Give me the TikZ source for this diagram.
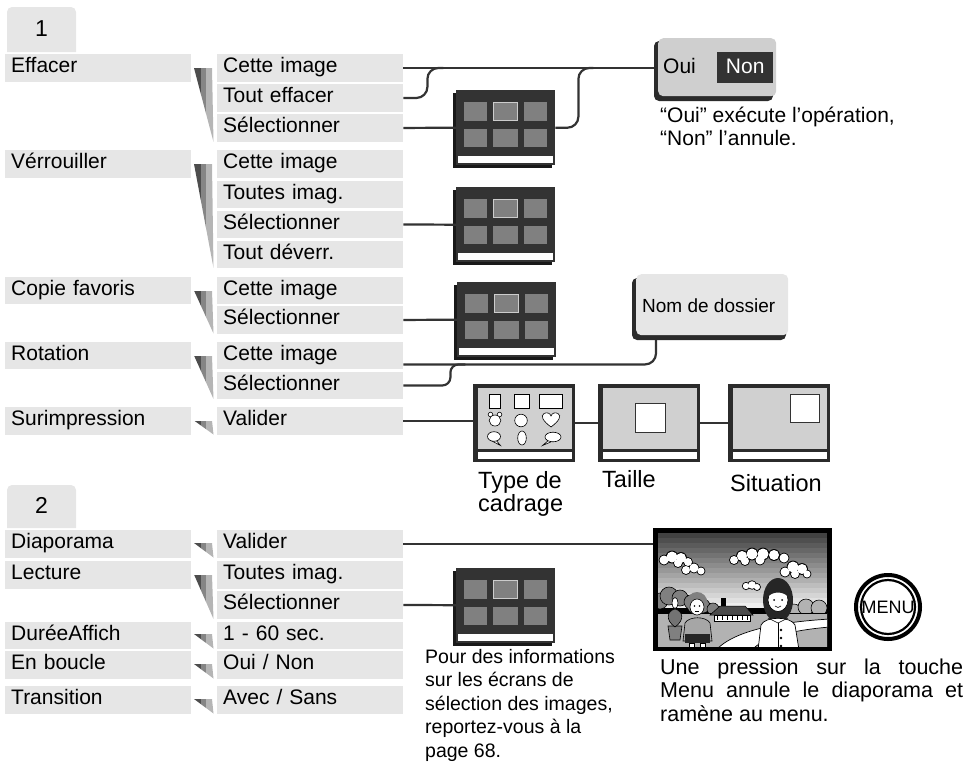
\documentclass[tikz,border=0pt]{standalone}
\usepackage{fontspec}
\setmainfont{Liberation Sans}
\usetikzlibrary{calc}

\definecolor{boxgray}{HTML}{E6E6E6}
\definecolor{wire}{HTML}{333333}
\definecolor{fanA}{HTML}{4D4D4D}
\definecolor{fanB}{HTML}{858585}
\definecolor{fanC}{HTML}{B5B5B5}
\definecolor{thumbdark}{HTML}{333333}
\definecolor{thumbsq}{HTML}{808080}
\definecolor{panelgray}{HTML}{CFCFCF}
\definecolor{screengray}{HTML}{D0D0D0}
\definecolor{shadowdark}{HTML}{2B2B2B}

% striped wedge joining a menu entry to its sub-options
\newcommand{\menufan}[2]{%
  \begin{scope}
    \clip (194,#1) -- (212,#1) -- (213.5,#2) -- cycle;
    \fill[fanA] (193,#1) rectangle (201,#2);
    \fill[fanB] (201,#1) rectangle (205.5,#2);
    \fill[fanC] (205.5,#1) rectangle (215,#2);
  \end{scope}}

\begin{document}
\begin{tikzpicture}[x=1pt, y=-1pt,
  menubox/.style={fill=boxgray, anchor=north west, inner xsep=6pt, inner ysep=0pt,
    text width=174pt, minimum height=27.5pt, text height=14.5pt, text depth=4.5pt,
    align=left, font=\fontsize{21}{24}\selectfont},
  conn/.style={draw=wire, line width=2.2pt, rounded corners=11pt},
  captxt/.style={anchor=base west, inner sep=0pt, font=\fontsize{21}{24}\selectfont},
  bigcap/.style={anchor=base west, inner sep=0pt, font=\fontsize{23.5}{26}\selectfont},
  notetxt/.style={anchor=base west, inner sep=0pt, font=\fontsize{19.5}{23}\selectfont},
  tabnum/.style={anchor=base, inner sep=0pt, font=\fontsize{23}{26}\selectfont},
  thumbbody/.style={fill=thumbdark, anchor=north west, minimum width=99pt,
    minimum height=75pt, inner sep=0pt},
  screenbody/.style={fill=shadowdark, anchor=north west, minimum width=102pt,
    minimum height=78pt, inner sep=0pt},
  icon/.style={draw=black, fill=white, line width=0.6pt},
  thin/.style={draw=black, line width=0.6pt},
  thumbpic/.pic={
    \fill[black!90] (-3,3) rectangle (96,78);
    \node[thumbbody] (-body) at (0,0) {};
    \foreach \cx in {8,68}{
      \fill[thumbsq] (\cx,12) rectangle ++(23,19);
      \fill[thumbsq] (\cx,39) rectangle ++(23,18);}
    \fill[thumbsq] (37,39) rectangle ++(25,18);
    \filldraw[fill=thumbsq, draw=black!20, line width=1pt] (37.5,12.5) rectangle ++(24,18);
    \fill[white] (2,66) rectangle (97,73);
  },
  screenpic/.pic={
    \node[screenbody] (-body) at (0,0) {};
    \fill[screengray] (5,4) rectangle (98.5,65);
    \fill[white] (5,67.5) rectangle (98.5,74.5);
  }
]
\useasboundingbox (0,0) rectangle (968,766);

% ---------- section tabs ----------
\fill[boxgray] (7,52) -- (7,12) arc[start angle=180, end angle=270, radius=5]
  -- (71,7) arc[start angle=270, end angle=360, radius=5] -- (76,52) -- cycle;
\node[tabnum] (tab1) at (41.5,36) {1};
\fill[boxgray] (7,528) -- (7,490) arc[start angle=180, end angle=270, radius=5]
  -- (71,485) arc[start angle=270, end angle=360, radius=5] -- (76,528) -- cycle;
\node[tabnum] (tab2) at (41.5,513) {2};

% ---------- menu entries ----------
\node[menubox] (m-eff) at (5,54) {Effacer};
\node[menubox] (m-ver) at (5,150) {Vérrouiller};
\node[menubox] (m-cop) at (5,276.5) {Copie favoris};
\node[menubox] (m-rot) at (5,341.5) {Rotation};
\node[menubox] (m-sur) at (5,407) {Surimpression};
\node[menubox] (m-dia) at (5,530) {Diaporama};
\node[menubox] (m-lec) at (5,561) {Lecture};
\node[menubox] (m-dur) at (5,621.5) {DuréeAffich};
\node[menubox] (m-bou) at (5,651) {En boucle};
\node[menubox] (m-tra) at (5,686) {Transition};

% ---------- sub-options ----------
\node[menubox] (s-eff-1) at (217,54) {Cette image};
\node[menubox] (s-eff-2) at (217,84) {Tout effacer};
\node[menubox] (s-eff-3) at (217,114) {Sélectionner};
\node[menubox] (s-ver-1) at (217,150) {Cette image};
\node[menubox] (s-ver-2) at (217,180.5) {Toutes imag.};
\node[menubox] (s-ver-3) at (217,210.5) {Sélectionner};
\node[menubox] (s-ver-4) at (217,240.5) {Tout déverr.};
\node[menubox] (s-cop-1) at (217,276.5) {Cette image};
\node[menubox] (s-cop-2) at (217,306) {Sélectionner};
\node[menubox] (s-rot-1) at (217,341.5) {Cette image};
\node[menubox] (s-rot-2) at (217,371.5) {Sélectionner};
\node[menubox] (s-sur-1) at (217,407) {Valider};
\node[menubox] (s-dia-1) at (217,530) {Valider};
\node[menubox] (s-lec-1) at (217,561) {Toutes imag.};
\node[menubox] (s-lec-2) at (217,591) {Sélectionner};
\node[menubox] (s-dur-1) at (217,621.5) {1 - 60 sec.};
\node[menubox] (s-bou-1) at (217,651) {Oui / Non};
\node[menubox] (s-tra-1) at (217,686) {Avec / Sans};

% ---------- wedges ----------
\menufan{68}{142}
\menufan{164}{268}
\menufan{290.5}{333.5}
\menufan{355.5}{399}
\menufan{420.5}{434.5}
\menufan{543}{557.5}
\menufan{574.5}{619}
\menufan{634}{648.5}
\menufan{664}{678.5}
\menufan{699}{713.5}

% ---------- selection screens ----------
\pic (th1) at (456,90) {thumbpic};
\pic (th2) at (456,187) {thumbpic};
\pic (th3) at (457,282) {thumbpic};
\pic (th4) at (456,567.5) {thumbpic};

% ---------- overlay screens ----------
\pic (fr1) at (473,384) {screenpic};
\pic (fr2) at (598,384) {screenpic};
\pic (fr3) at (728,384) {screenpic};

% frame shapes on the first screen
\filldraw[icon] (489,394) rectangle (500,408);
\filldraw[icon] (514,394) rectangle (529,408);
\filldraw[icon] (539,394) rectangle (562,408);
\filldraw[icon] (490.5,414.5) circle (2.3);
\filldraw[icon] (499.5,414.5) circle (2.3);
\filldraw[icon] (495,420.5) ellipse (5.8 and 5.5);
\filldraw[icon] (521,420.5) circle (6.3);
\filldraw[icon] (551,427) .. controls (543,421) and (540,416) .. (544,413.5)
  .. controls (547,412) and (550,413) .. (551,416)
  .. controls (552,413) and (555,412) .. (558,413.5)
  .. controls (562,416) and (559,421) .. (551,427) -- cycle;
\filldraw[icon] (495,439) -- (500.5,445.5) -- (491,440.5) -- cycle;
\filldraw[icon] (494,436.5) ellipse (6.5 and 4.8);
\filldraw[icon] (522,438) ellipse (4.3 and 7);
\filldraw[icon] (549,440) -- (542.5,445.5) -- (553,441) -- cycle;
\filldraw[icon] (553,437) ellipse (8 and 4.8);
% size and position markers
\filldraw[draw=black!80, fill=white, line width=0.8pt] (635,403) rectangle (665,432);
\filldraw[draw=black!80, fill=white, line width=0.8pt] (790,394) rectangle (819,422);

% ---------- slideshow picture ----------
\node[fill=black, anchor=north west, minimum width=179pt, minimum height=123pt, inner sep=0pt]
  (photo) at (653,528) {};
\begin{scope}
  \clip (658,533) rectangle (827,646);
  \foreach \i in {0,...,14}{
    \pgfmathsetmacro\g{74-4.8*\i}
    \fill[black!\g] (658,533+5*\i) rectangle (827,538.2+5*\i);}
  % clouds
  \foreach \cx/\cy/\r in {664/560/4.5,672/557/5.5,681/558/5,688/562/4,694/568/4.5,701/571/3.5,686/570/4,678/563/4,
      734/560/4,742/556/5,752/554/5.5,763/554/5.5,774/555/5,784/558/4.5,760/560/4.5,745/561/4,
      785/572/4.5,793/567/5.5,802/569/5,807/574/3.5,795/574/4,
      746/586/3.2,752/585/3.8,757/587/3}
    \fill[black] (\cx,\cy) circle (\r+0.9);
  \foreach \cx/\cy/\r in {664/560/4.5,672/557/5.5,681/558/5,688/562/4,694/568/4.5,701/571/3.5,686/570/4,678/563/4,
      734/560/4,742/556/5,752/554/5.5,763/554/5.5,774/555/5,784/558/4.5,760/560/4.5,745/561/4,
      785/572/4.5,793/567/5.5,802/569/5,807/574/3.5,795/574/4,
      746/586/3.2,752/585/3.8,757/587/3}
    \fill[white] (\cx,\cy) circle (\r);
  % trees and hills
  \foreach \cx/\cy/\r in {660/601/8,669/596/9,680/598/8,691/602/7,703/606/7,713/609/6}
    \filldraw[fill=black!50, thin] (\cx,\cy) circle (\r);
  \foreach \cx/\cy/\r in {794/611/7,806/607/8,819/608/8}
    \filldraw[fill=black!30, thin] (\cx,\cy) circle (\r);
  % ground and path
  \filldraw[fill=black!30, thin] (655,613) -- (830,613) -- (830,650) -- (655,650) -- cycle;
  \filldraw[fill=white, draw=black, line width=0.7pt] (716,650) .. controls (735,630) and (780,622) .. (830,619)
    -- (830,627) .. controls (792,630) and (762,638) .. (752,650) -- cycle;
  % farmhouse
  \fill[black] (721,598) rectangle (726,607);
  \filldraw[fill=black!70, draw=black, line width=0.5pt] (710,615) -- (720,606) -- (745,606) -- (753,615) -- cycle;
  \filldraw[fill=white, draw=black, line width=0.5pt] (714,615) rectangle (750,621);
  \foreach \wx in {717,722,...,747} \draw[black, line width=0.5pt] (\wx,616) -- (\wx,620);
  % boy with potted flower
  \filldraw[fill=black!50, thin] (668,626) -- (682,626) -- (680,640) -- (670,640) -- cycle;
  \filldraw[fill=black!55, thin] (675,627) .. controls (665,620) and (667,611) .. (675,609)
    .. controls (683,611) and (685,620) .. (675,627) -- cycle;
  \filldraw[fill=white, thin] (675,603) ellipse (3 and 5.5);
  \filldraw[fill=black!35, thin] (683,641) -- (685,623) .. controls (689,616) and (706,616) .. (710,623)
    -- (712,641) -- cycle;
  \fill[black!85] (685,634) rectangle (710,643);
  \filldraw[fill=white, thin] (689,643) rectangle (694,650) (700,643) rectangle (705,650);
  \fill[black!50] (697,603) ellipse (10.5 and 11);
  \filldraw[fill=white, thin] (697,607) ellipse (7 and 8);
  \fill[black] (694.5,606) circle (0.9) (699.5,606) circle (0.9);
  \draw[thin] (695,611) -- (699,611);
  % girl in white blouse
  \fill[black!85] (778,600) ellipse (15 and 22);
  \filldraw[fill=white, draw=black, line width=0.7pt] (758,650) -- (761,625) .. controls (765,616) and (791,616) .. (795,625)
    -- (799,650) -- cycle;
  \filldraw[fill=white, thin] (778,600) ellipse (10 and 11.5);
  \fill[black!85] (767.5,597) .. controls (768,582) and (788,582) .. (788.5,597)
    .. controls (783,591) and (773,591) .. (767.5,597) -- cycle;
  \fill[black] (774,600) circle (1) (782,600) circle (1);
  \draw[thin] (775,606) .. controls (777,608) and (779,608) .. (781,606);
  \draw[thin] (768,618) -- (778,623) -- (788,618);
  \draw[thin] (778,623) -- (778,650);
  \fill[black] (781,630) circle (1.3) (781,638) circle (1.3) (781,646) circle (1.3);
\end{scope}

% ---------- MENU button ----------
\node[circle, draw=black, line width=4pt, minimum size=64pt, inner sep=0pt] (menu) at (888,607) {};
\draw[black, line width=2.2pt] (menu.center) circle (27);
\node[inner sep=0pt, font=\fontsize{18}{18}\selectfont] (menu-txt) at (menu.center) {MENU};

% ---------- connectors ----------
\draw[conn] (s-eff-1.east) -- (s-eff-1.east -| 660,0);
\draw[conn] (s-eff-2.east) -| ($(s-eff-1.east)+(24,0)$) -- ($(s-eff-1.east)+(40,0)$);
\draw[conn] (s-eff-3.east) -- (th1-body.west);
\draw[conn] (th1-body.east) -| ($(s-eff-1.east)+(175,0)$) -- ($(s-eff-1.east)+(190,0)$);
\draw[conn] (s-ver-3.east) -- (th2-body.west);
\draw[conn] (s-cop-2.east) -- (th3-body.west);
\draw[conn] ($(s-rot-1.east)+(0,9)$) -| (656,330);
\draw[conn, rounded corners=8pt] (s-rot-2.east) -| ($(s-rot-1.east)+(47,9)$) -- ($(s-rot-1.east)+(62,9)$);
\draw[conn] (s-sur-1.east) -- (s-sur-1.east -| fr1-body.west);
\draw[conn] (fr1-body.east) -- (fr2-body.west);
\draw[conn] (fr2-body.east) -- (fr3-body.west);
\draw[conn] (s-dia-1.east) -- (s-dia-1.east -| photo.west);
\draw[conn] (s-lec-2.east) -- (th4-body.west);

% ---------- confirmation panel ----------
\fill[shadowdark, rounded corners=5pt] (654,41) rectangle (773,101);
\node[fill=panelgray, rounded corners=5pt, anchor=north west, minimum width=118pt,
  minimum height=58pt, inner sep=0pt] (oui) at (658,38) {};
\node[captxt] (oui-yes) at (663,73) {Oui};
\node[fill=wire, text=white, anchor=north west, minimum width=56pt, minimum height=31pt,
  inner sep=0pt, text height=15pt, text depth=4pt, font=\fontsize{21}{24}\selectfont]
  (oui-no) at (717,52) {Non};
\node[captxt] (oui-note-1) at (660,122) {“Oui” exécute l’opération,};
\node[captxt] (oui-note-2) at (660,145.5) {“Non” l’annule.};

% ---------- folder name panel ----------
\fill[shadowdark, rounded corners=5pt] (632,278) rectangle (786,340);
\node[fill=boxgray, rounded corners=5pt, anchor=north west, minimum width=152pt,
  minimum height=61pt, inner sep=0pt] (nom) at (636,274) {};
\node[anchor=base west, inner sep=0pt, font=\fontsize{19}{22}\selectfont] (nom-txt) at (642,312) {Nom de dossier};

% ---------- captions ----------
\node[bigcap] (cap-type-1) at (478,488) {Type de};
\node[bigcap] (cap-type-2) at (478,511.5) {cadrage};
\node[bigcap] (cap-taille) at (602,487) {Taille};
\node[bigcap] (cap-sit) at (730,491.5) {Situation};

\node[notetxt] (note-1) at (425,663) {Pour des informations};
\node[notetxt] (note-2) at (425,686.5) {sur les écrans de};
\node[notetxt] (note-3) at (425,710) {sélection des images,};
\node[notetxt] (note-4) at (425,733.5) {reportez-vous à la};
\node[notetxt] (note-5) at (425,757) {page 68.};

\node[captxt, font=\fontsize{21.5}{24}\selectfont] (menu-note-1) at (660,674) {\makebox[303pt][s]{Une pression sur la touche}};
\node[captxt, font=\fontsize{21.5}{24}\selectfont] (menu-note-2) at (660,697.5) {\makebox[303pt][s]{Menu annule le diaporama et}};
\node[captxt, font=\fontsize{21.5}{24}\selectfont] (menu-note-3) at (660,721) {ramène au menu.};
\end{tikzpicture}
\end{document}
